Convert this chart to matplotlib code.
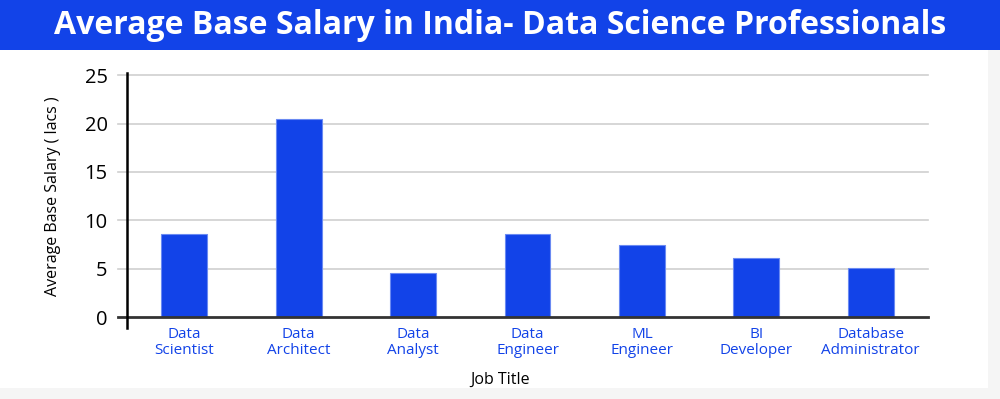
import matplotlib.pyplot as plt
from matplotlib.patches import Rectangle

# data
jobs = ['Data\nScientist', 'Data\nArchitect', 'Data\nAnalyst', 'Data\nEngineer',
        'ML\nEngineer', 'BI\nDeveloper', 'Database\nAdministrator']
salary = [8.6, 20.5, 4.6, 8.6, 7.4, 6.1, 5.1]
yticks = [0, 5, 10, 15, 20, 25]

blue = '#1243e8'
plt.rcParams['font.family'] = ['Open Sans', 'DejaVu Sans']

fig = plt.figure(figsize=(10, 3.99), dpi=100, facecolor='#f5f5f5')
# white card and title band
fig.patches.append(Rectangle((0, 0.028), 0.988, 0.85, transform=fig.transFigure,
                             facecolor='white', edgecolor='none', zorder=-2))
fig.patches.append(Rectangle((0, 0.875), 1, 0.125, transform=fig.transFigure,
                             facecolor=blue, edgecolor='none', zorder=-1))
fig.text(0.5, 0.916, 'Average Base Salary in India- Data Science Professionals',
         ha='center', va='baseline', color='white', fontsize=23, fontweight='bold')

ax = fig.add_axes([0.127, 0.2055, 0.801, 0.6058])
ax.set_facecolor('none')
x = range(len(jobs))
ax.bar(x, salary, width=0.4, color=blue, edgecolor='#6a8af2', linewidth=0.8, zorder=3)
ax.set_xlim(-0.5, len(jobs) - 0.5)
ax.set_ylim(0, 25)

for s in ax.spines.values():
    s.set_visible(False)

# gridlines stick out a little left of the axis
for v in yticks:
    ax.axhline(v, xmin=-0.0112, xmax=1, color='#cfcfcf' if v else '#333333',
               linewidth=1.2 if v else 2, clip_on=False, zorder=1 if v else 4)
ax.plot([0, 0], [-0.045, 1.01], transform=ax.transAxes, color='black',
        linewidth=1.8, clip_on=False, zorder=5)

ax.set_yticks(yticks)
ax.set_xticks(list(x))
ax.set_xticklabels(jobs, color=blue, fontsize=11, linespacing=1.1)
ax.tick_params(axis='x', length=0, pad=7)
ax.tick_params(axis='y', length=0, pad=14, labelsize=14.5)
ax.set_ylabel('Average Base Salary ( lacs )', fontsize=11.5, labelpad=17)
fig.text(0.5, 0.047, 'Job Title', ha='center', va='center', fontsize=11.5)

fig.savefig('out.png', dpi=100, facecolor=fig.get_facecolor())
